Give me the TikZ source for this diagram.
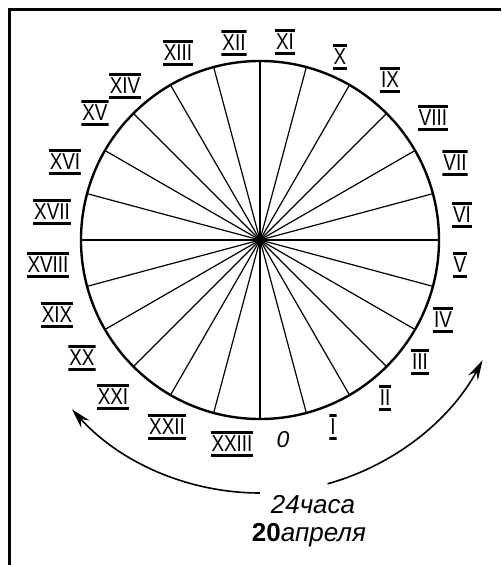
\documentclass[tikz,border=0pt]{standalone}
\usepackage{fontspec}
\setmainfont{Liberation Sans}
\newfontfamily\numfont[FakeStretch=0.82]{Liberation Sans}
\usetikzlibrary{arrows.meta}
\begin{document}
\begin{tikzpicture}[x=1pt,y=1pt,
  rim/.style={draw=black,line width=2.4pt},
  ray/.style={draw=black,line width=1.2pt},
  numeral/.style={font=\numfont\fontsize{23}{23}\selectfont,inner xsep=1pt,inner ysep=5pt,
    path picture={\draw[line width=5pt]
      (path picture bounding box.north west)--(path picture bounding box.north east)
      (path picture bounding box.south west)--(path picture bounding box.south east);}},
  sweep/.style={draw=black,line width=1.6pt,-{Stealth[length=20pt,width=11pt,inset=7pt]}},
  caption/.style={font=\itshape\fontsize{26}{26}\selectfont,inner sep=0pt},
]
\useasboundingbox (-260,-325) rectangle (241,240);
\draw[line width=3pt] (-250,-325)--(-250,230)--(241,230);
\node[circle,rim,minimum size=358pt,inner sep=0pt,outer sep=0pt] (dial) at (0,0) {};
\foreach \a in {0,15,...,345}{
  \draw[ray] (dial.center)--(dial.\a);
}
\node[caption,font=\itshape\fontsize{23}{23}\selectfont] (h0) at (23,-200) {0};
\foreach \lab/\x/\y [count=\i] in {I/73/-187,II/125/-158,III/160/-122,IV/183/-80,
  V/200/-25,VI/202/25,VII/195/77,VIII/173/122,IX/130/160,X/80/183,XI/25/198,
  XII/-26/197,XIII/-82/187,XIV/-135/154,XV/-165/127,XVI/-195/78,XVII/-208/28,
  XVIII/-212/-25,XIX/-203/-75,XX/-178/-118,XXI/-147/-157,XXII/-93/-187,XXIII/-28/-204}{
  \node[numeral] (h\i) at (\x,\y) {\lab};
}
\draw[sweep] (-90:253) arc[start angle=-90,end angle=-138,radius=253];
\draw[sweep] (-74.5:253) arc[start angle=-74.5,end angle=-28.4,radius=253];
\node[caption] (span) at (53,-265) {24часа};
\node[caption] (date) at (49,-295) {{\upshape\bfseries 20}апреля};
\end{tikzpicture}
\end{document}
